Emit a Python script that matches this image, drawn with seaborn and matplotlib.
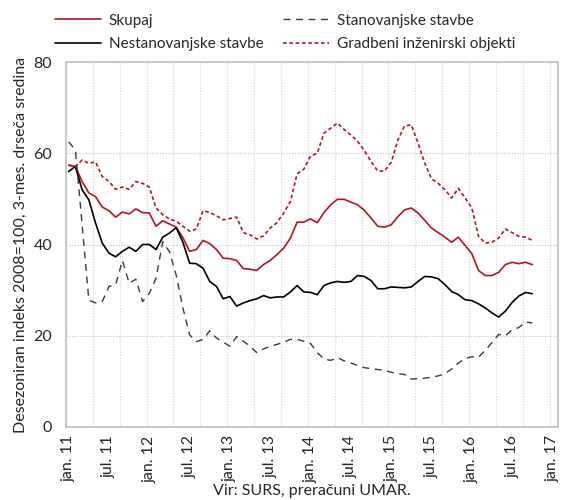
import numpy as np
import pandas as pd
import matplotlib
matplotlib.use("Agg")
import matplotlib.pyplot as plt
import seaborn as sns

# monthly values, jan. 2011 - okt. 2016 (3-mes. drseca sredina)
skupaj = [57.4, 57.1, 53.8, 51.3, 50.5, 48.2, 47.4, 46.0, 47.1, 46.7,
          47.8, 47.0, 46.9, 44.0, 45.2, 44.5, 43.8, 41.5, 38.5, 38.9,
          40.9, 40.2, 38.9, 37.0, 36.9, 36.5, 34.7, 34.6, 34.3, 35.6,
          36.5, 37.8, 39.2, 41.4, 44.9, 44.9, 45.6, 44.8, 47.0, 48.7,
          49.9, 49.9, 49.3, 48.7, 47.5, 45.8, 44.0, 43.8, 44.3, 46.1,
          47.6, 48.0, 46.9, 45.3, 43.6, 42.6, 41.6, 40.5, 41.6, 39.8,
          38.0, 34.3, 33.2, 33.2, 33.9, 35.6, 36.1, 35.8, 36.1, 35.6]
nestanovanjske = [56.0, 57.1, 52.0, 49.8, 44.7, 40.3, 38.1, 37.3, 38.5, 39.4,
                  38.5, 40.0, 40.0, 38.9, 41.6, 42.5, 43.7, 40.5, 35.9, 35.8,
                  34.8, 31.9, 30.8, 28.1, 28.6, 26.5, 27.2, 27.7, 28.1, 28.8,
                  28.3, 28.5, 28.5, 29.6, 31.0, 29.6, 29.5, 29.0, 31.0, 31.6,
                  31.9, 31.7, 31.9, 33.2, 33.0, 32.1, 30.3, 30.3, 30.7, 30.6,
                  30.5, 30.7, 31.9, 33.0, 32.9, 32.5, 31.2, 29.7, 29.0, 27.9,
                  27.7, 27.0, 26.1, 25.0, 24.1, 25.4, 27.3, 28.7, 29.5, 29.2]
stanovanjske = [62.5, 60.7, 44.4, 27.8, 27.2, 27.5, 30.8, 31.2, 36.5, 31.5,
                32.4, 27.5, 29.3, 32.6, 40.6, 38.4, 33.3, 26.1, 20.2, 18.7,
                19.2, 21.1, 19.5, 18.6, 17.7, 19.8, 18.8, 17.7, 16.3, 17.1,
                17.7, 18.1, 18.6, 19.2, 19.2, 18.8, 18.3, 16.3, 14.9, 14.6,
                15.2, 14.5, 14.0, 13.5, 13.0, 12.8, 12.6, 12.4, 12.0, 11.7,
                11.5, 10.5, 10.6, 10.7, 10.9, 11.2, 11.7, 12.7, 14.0, 15.0,
                15.4, 15.3, 16.8, 18.5, 20.3, 20.0, 21.3, 21.8, 23.0, 22.8]
gradbeni = [57.4, 57.1, 58.5, 57.8, 58.1, 54.9, 53.8, 52.1, 52.6, 52.1,
            53.8, 53.4, 52.6, 48.0, 46.5, 45.6, 45.1, 44.0, 42.9, 43.4,
            47.4, 47.0, 46.3, 45.4, 45.7, 46.0, 42.6, 42.1, 41.2, 41.9,
            43.6, 44.8, 46.9, 49.4, 55.5, 56.5, 59.4, 60.0, 64.4, 65.5,
            66.6, 65.2, 64.0, 62.6, 60.6, 58.2, 56.1, 56.1, 58.0, 62.9,
            66.0, 66.2, 62.2, 57.8, 54.4, 53.4, 52.0, 50.2, 52.3, 50.2,
            48.0, 41.8, 40.3, 40.5, 41.4, 43.4, 42.6, 41.8, 41.6, 40.9]
tick_labels = ["jan. 11", "jul. 11", "jan. 12", "jul. 12", "jan. 13", "jul. 13",
               "jan. 14", "jul. 14", "jan. 15", "jul. 15", "jan. 16", "jul. 16",
               "jan. 17"]

month = np.arange(len(skupaj))
df = pd.DataFrame({"month": month, "Skupaj": skupaj,
                   "Nestanovanjske stavbe": nestanovanjske,
                   "Stanovanjske stavbe": stanovanjske,
                   "Gradbeni inženirski objekti": gradbeni})

sns.set_style("white")
plt.rcParams["font.family"] = ["Lato", "DejaVu Sans"]

red = "#b3141f"
fig = plt.figure(figsize=(5.64, 5.0), dpi=100)
ax = fig.add_axes([0.117, 0.146, 0.872, 0.730])

sns.lineplot(data=df, x="month", y="Skupaj", color=red, lw=1.2, label="Skupaj", ax=ax)
sns.lineplot(data=df, x="month", y="Nestanovanjske stavbe", color="black", lw=1.2,
             label="Nestanovanjske stavbe", ax=ax)
sns.lineplot(data=df, x="month", y="Stanovanjske stavbe", color="#3a3a3a", lw=1.0,
             linestyle=(0, (5, 4)), label="Stanovanjske stavbe", ax=ax)
sns.lineplot(data=df, x="month", y="Gradbeni inženirski objekti", color=red, lw=1.2,
             linestyle=(0, (2.2, 1.6)), label="Gradbeni inženirski objekti", ax=ax)

handles, labels = ax.get_legend_handles_labels()
ax.get_legend().remove()
fig.legend(handles, labels, ncol=2, loc="upper left", bbox_to_anchor=(0.074, 1.0),
           frameon=False, fontsize=11, handlelength=3.0, columnspacing=1.3,
           labelspacing=0.6, handletextpad=0.5)

ax.set_xlim(-0.4, 72.8)
ax.set_ylim(0, 80)
ax.set_yticks([0, 20, 40, 60, 80])
ax.set_xticks(np.arange(0, 73, 6))
ax.set_xticklabels(tick_labels, rotation=90)
ax.set_xticks(np.arange(-0.4, 72, 4), minor=True)
ax.tick_params(axis="both", which="both", length=0, labelsize=11.5)
ax.tick_params(axis="x", pad=6)
ax.tick_params(axis="y", pad=10)

ax.grid(axis="y", which="major", color="#c8c8c8", linestyle=(0, (1, 1.2)), lw=0.9)
ax.grid(axis="x", which="minor", color="#d8d8d8", linestyle=(0, (1, 1.2)), lw=0.9)
ax.grid(axis="x", which="major", visible=False)
for s in ax.spines.values():
    s.set_color("#bfbfbf")
    s.set_linewidth(1.2)

ax.set_xlabel("")
ax.set_ylabel("Desezoniran indeks 2008=100, 3-mes. drseča sredina", fontsize=11.5)
fig.text(0.553, 0.018, "Vir: SURS, preračuni UMAR.", ha="center", va="center", fontsize=11.5)

fig.savefig("out.png", dpi=100)
